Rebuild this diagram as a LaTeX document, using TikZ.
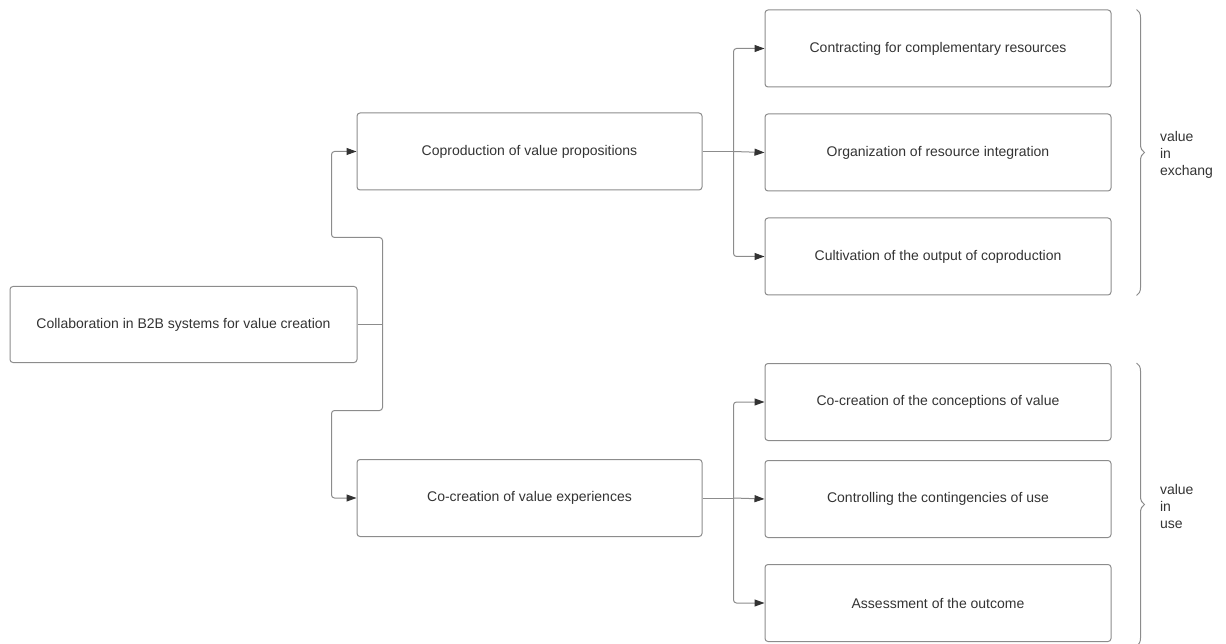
\documentclass[tikz,border=0pt]{standalone}
\usepackage{fontspec}
\setmainfont{Liberation Sans}
\usetikzlibrary{arrows.meta, positioning, decorations.pathreplacing}

\definecolor{boxline}{HTML}{8C8C8C}
\definecolor{inktext}{HTML}{333333}

\begin{document}
\begin{tikzpicture}[
      x=1pt, y=-1pt,
      every node/.style={font=\fontsize{14}{17}\selectfont, text=inktext},
      box/.style={rectangle, draw=boxline, line width=1pt, rounded corners=3pt, minimum width=346pt, minimum height=77pt, align=center, inner sep=0pt},
      link/.style={draw=boxline, line width=1pt, rounded corners=3pt},
      arrow/.style={link, -{Triangle[length=10pt, width=7pt, color=inktext]}},
      brace/.style={draw=boxline, line width=1pt, decorate, decoration={brace, amplitude=8pt}},
      side/.style={align=left, anchor=west, font=\fontsize{14}{17}\selectfont}
    ]
    \useasboundingbox (0,0) rectangle (1226,644);

    % root and the two branches
    \node[box, minimum width=347pt, minimum height=76pt] (collab) at (183.5,324.5) {Collaboration in B2B systems for value creation};
    \node[box, minimum width=345pt] (coprod) at (529.5,151.5) {Coproduction of value propositions};
    \node[box, minimum width=345pt] (cocreate) at (529.5,498) {Co-creation of value experiences};

    % value in exchange
    \node[box] (contract) at (938,48.5) {Contracting for complementary resources};
    \node[box, below=26pt of contract] (organize) {Organization of resource integration};
    \node[box, below=26pt of organize] (cultivate) {Cultivation of the output of coproduction};

    % value in use
    \node[box] (conceive) at (938,402) {Co-creation of the conceptions of value};
    \node[box, below=19pt of conceive] (control) {Controlling the contingencies of use};
    \node[box, below=26pt of control] (assess) {Assessment of the outcome};

    % root to branches
    \draw[link] (collab.east) -- ++(25pt,0) coordinate (rootjoin);
    \draw[arrow] (rootjoin) -- ++(0,87pt) -- ++(-51pt,0) |- (coprod.west);
    \draw[arrow] (rootjoin) -- ++(0,-86pt) -- ++(-51pt,0) |- (cocreate.west);

    % branches to leaves
    \draw[link] (coprod.east) -- ++(31pt,0) coordinate (upjoin);
    \draw[arrow] (upjoin) |- (contract.west);
    \draw[arrow] (upjoin) -- (organize.west);
    \draw[arrow] (upjoin) |- (cultivate.west);

    \draw[link] (cocreate.east) -- ++(31pt,0) coordinate (lowjoin);
    \draw[arrow] (lowjoin) |- (conceive.west);
    \draw[arrow] (lowjoin) -- (control.west);
    \draw[arrow] (lowjoin) |- (assess.west);

    % braces
    \draw[brace] ([xshift=25pt]contract.north east) -- ([xshift=25pt]cultivate.south east) coordinate[midway, xshift=12pt] (tipup);
    \node[side] (exch) at ([xshift=8pt, yshift=-2pt]tipup) {value\\in\\exchang};
    \draw[brace] ([xshift=25pt]conceive.north east) -- ([xshift=25pt, yshift=-4pt]assess.south east) coordinate[midway, xshift=12pt] (tiplow);
    \node[side] (use) at ([xshift=8pt, yshift=-2pt]tiplow) {value\\in\\use};
\end{tikzpicture}
\end{document}
